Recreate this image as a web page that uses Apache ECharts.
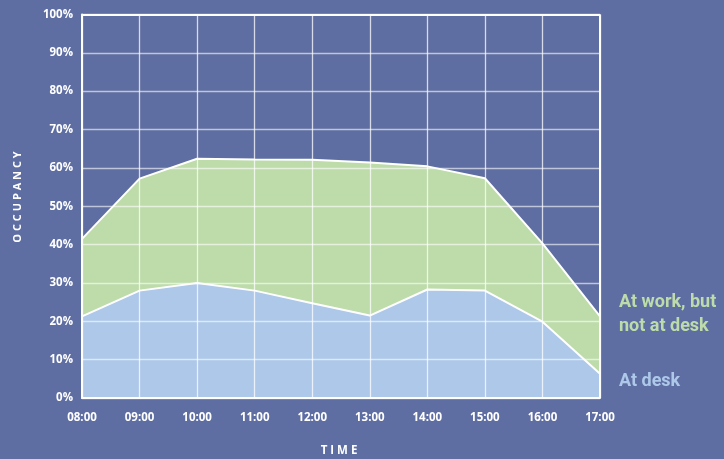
<!DOCTYPE html>
<html><head><meta charset="utf-8">
<script src="https://cdn.jsdelivr.net/npm/echarts@6/dist/echarts.min.js"></script>
<style>html,body{margin:0;padding:0;background:#5f6ea2;}#c{width:724px;height:459px;}</style>
</head><body><div id="c"></div>
<script>
const categories = ['08:00','09:00','10:00','11:00','12:00','13:00','14:00','15:00','16:00','17:00'];
const atDesk = [21.3, 28.0, 30.0, 28.0, 24.7, 21.5, 28.3, 28.0, 19.9, 6.3];
const atWorkNotDesk = [20.2, 29.2, 32.4, 34.2, 37.4, 39.9, 32.1, 29.3, 20.4, 15.0];
const yTicks = [0,10,20,30,40,50,60,70,80,90,100];

const BG = '#5f6ea2', BLUE = '#adc8e9', GREEN = '#bddcaa';
const FONT = 'Open Sans';
const chart = echarts.init(document.getElementById('c'), null, {renderer:'canvas'});
chart.setOption({
  backgroundColor: BG,
  animation: false,
  grid: {left: 82, right: 124, top: 14.5, bottom: 61, containLabel: false},
  xAxis: {
    type: 'category', data: categories, boundaryGap: false, z: 5,
    axisLine: {show: true, lineStyle: {color: '#ffffff', width: 2}},
    axisTick: {show: false},
    axisLabel: {color: '#ffffff', fontFamily: FONT, fontWeight: 700, fontSize: 11.5, margin: 14,
      showMaxLabel: true, showMinLabel: true, interval: 0},
    splitLine: {show: true, lineStyle: {color: 'rgba(255,255,255,0.75)', width: 1.3}}
  },
  yAxis: {
    type: 'value', min: 0, max: 100, interval: 10, z: 5,
    axisLine: {show: true, lineStyle: {color: '#ffffff', width: 2}},
    axisTick: {show: false},
    axisLabel: {color: '#ffffff', fontFamily: FONT, fontWeight: 700, fontSize: 11.5, margin: 9,
      formatter: v => yTicks.includes(v) ? v + '%' : ''},
    splitLine: {show: true, lineStyle: {color: 'rgba(255,255,255,0.6)', width: 1.3}}
  },
  series: [
    {name: 'At desk', type: 'line', stack: 'occ', data: atDesk, symbol: 'none', z: -1,
     lineStyle: {color: '#ffffff', width: 2}, areaStyle: {color: BLUE, opacity: 1}},
    {name: 'At work, but not at desk', type: 'line', stack: 'occ', data: atWorkNotDesk, symbol: 'none', z: -2,
     lineStyle: {color: '#ffffff', width: 2}, areaStyle: {color: GREEN, opacity: 1},
     markLine: {silent: true, symbol: 'none', label: {show: false},
       lineStyle: {color: '#ffffff', width: 2, type: 'solid'},
       data: [[{coord: [categories[0], 100]}, {coord: [categories[categories.length-1], 100]}],
              [{coord: [categories[categories.length-1], 0]}, {coord: [categories[categories.length-1], 100]}]]}}
  ],
  graphic: [
    {type: 'text', left: 619, top: 291, style: {text: 'At work, but\nnot at desk', fill: GREEN, font: '700 18px Roboto', lineHeight: 23.5}},
    {type: 'text', left: 619, top: 372.5, style: {text: 'At desk', fill: BLUE, font: '700 18px Roboto'}},
    {type: 'text', x: 18, y: 197, rotation: Math.PI/2, style: {text: 'O C C U P A N C Y', fill: '#ffffff', font: '700 11px "Open Sans"', align: 'center', verticalAlign: 'middle'}},
    {type: 'text', x: 339, y: 451, style: {text: 'T I M E', fill: '#ffffff', font: '700 11.5px "Open Sans"', align: 'center', verticalAlign: 'middle'}}
  ]
});
</script></body></html>
